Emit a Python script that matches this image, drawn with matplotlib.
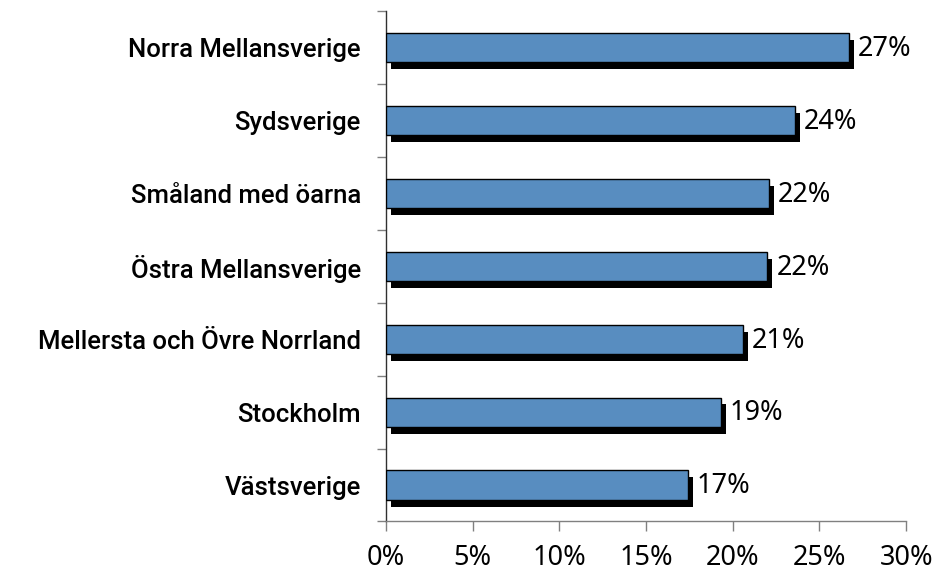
import matplotlib

matplotlib.use("Agg")
import matplotlib.patheffects as pe
import matplotlib.pyplot as plt
import matplotlib.ticker as mticker
import numpy as np

regions = [
    "Norra Mellansverige",
    "Sydsverige",
    "Småland med öarna",
    "Östra Mellansverige",
    "Mellersta och Övre Norrland",
    "Stockholm",
    "Västsverige",
]
shares = [26.7, 23.6, 22.1, 22.0, 20.6, 19.3, 17.4]
share_labels = ["27%", "24%", "22%", "22%", "21%", "19%", "17%"]
x_ticks = [0, 5, 10, 15, 20, 25, 30]

BAR_COLOR = "#588dc0"


def to_percent(x, _):
    return f"{x:.0f}%"


def main():
    plt.rcParams["font.family"] = ["Noto Sans", "DejaVu Sans"]

    fig = plt.figure(figsize=(9.39, 5.78), dpi=100)
    ax = fig.add_axes([0.411, 0.0978, 0.554, 0.883])

    y = np.arange(len(regions))
    bars = ax.barh(y, shares, height=0.40, color=BAR_COLOR,
                   edgecolor="black", linewidth=1.0, zorder=3)
    for b in bars:
        b.set_path_effects([
            pe.SimplePatchShadow(offset=(3.6, -5), shadow_rgbFace="black", alpha=1.0),
            pe.Normal(),
        ])

    for yi, v, lab in zip(y, shares, share_labels):
        ax.annotate(lab, (v, yi), xytext=(6.5, -1), textcoords="offset points",
                    ha="left", va="center", fontsize=19.5, color="black")

    ax.set_xlim(0, 30)
    ax.set_ylim(len(regions) - 0.5, -0.5)
    ax.set_xticks(x_ticks)
    ax.xaxis.set_major_formatter(mticker.FuncFormatter(to_percent))

    ax.set_yticks(y)
    ax.set_yticklabels(regions, fontsize=18.5, fontweight="medium",
                       family=["Roboto", "DejaVu Sans"])
    ax.set_yticks(np.arange(-0.5, len(regions)), minor=True)

    for side in ("top", "right"):
        ax.spines[side].set_visible(False)
    ax.spines["left"].set_color("#303030")
    ax.spines["bottom"].set_color("#808080")
    ax.spines["left"].set_linewidth(1.0)
    ax.spines["bottom"].set_linewidth(1.0)

    ax.tick_params(axis="y", which="major", length=0, pad=18)
    ax.tick_params(axis="y", which="minor", length=6.5, width=1, color="#808080")
    ax.tick_params(axis="x", which="major", length=7, width=1, color="#808080",
                   labelsize=19.5, pad=9.5)

    fig.savefig("out.png", dpi=100)


if __name__ == "__main__":
    main()
